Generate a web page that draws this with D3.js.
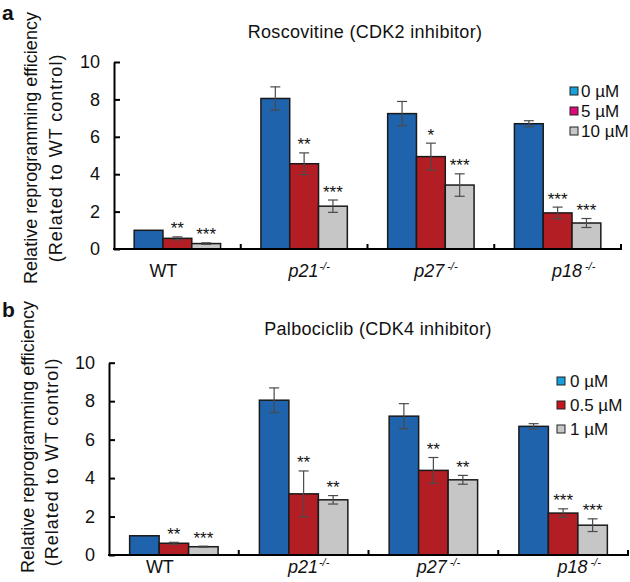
<!DOCTYPE html>
<html><head><meta charset="utf-8">
<script src="https://cdn.jsdelivr.net/npm/d3@7/dist/d3.min.js"></script>
<style>
body{margin:0;background:#fff}
svg{display:block}
text{font-family:Arial,"Liberation Sans",sans-serif;fill:#111}
</style>
</head><body>
<svg id="chart" width="630" height="582"></svg>
<script>
// ---- data ----
const categories = ["WT", "p21", "p27", "p18"];
const yTicks = [0, 2, 4, 6, 8, 10];

const roscSeries = ["0 µM", "5 µM", "10 µM"];
const rosc0 = [1.0, 8.05, 7.24, 6.70];
const rosc5 = [0.57, 4.56, 4.94, 1.93];
const rosc10 = [0.29, 2.29, 3.42, 1.39];
const roscErr0 = [0, 0.62, 0.65, 0.16];
const roscErr5 = [0.08, 0.58, 0.72, 0.31];
const roscErr10 = [0.04, 0.33, 0.60, 0.24];
const roscStars5 = ["**", "**", "*", "***"];
const roscStars10 = ["***", "***", "***", "***"];

const palbSeries = ["0 µM", "0.5 µM", "1 µM"];
const palb0 = [1.0, 8.05, 7.22, 6.69];
const palb05 = [0.61, 3.18, 4.40, 2.18];
const palb1 = [0.43, 2.87, 3.91, 1.55];
const palbErr0 = [0, 0.64, 0.65, 0.14];
const palbErr05 = [0.05, 1.19, 0.67, 0.22];
const palbErr1 = [0.03, 0.22, 0.23, 0.33];
const palbStars05 = ["**", "**", "**", "***"];
const palbStars1 = ["***", "**", "**", "***"];

// ---- styling / layout ----
const barColors = ["#1f63ac", "#b31d24", "#c6c6c6"];
const labelDx = {WT: -14, p21: 5, p27: 5, p18: 16};

const panels = [
  {letter: "a", letterY: 20, title: "Roscovitine (CDK2 inhibitor)", titleX: 365, titleY: 38,
   series: roscSeries, values: [rosc0, rosc5, rosc10], errors: [roscErr0, roscErr5, roscErr10],
   stars: [null, roscStars5, roscStars10],
   legendColors: ["#17a0da", "#dc0a7a", "#c8c8c8"], legendX: 570, legendY: 91, legendStep: 20, legendTextX: 581,
   x0: 114, x1: 621, yTop: 62, yBot: 249, xlabOff: 28, ylab1X: 37, ylab1Y: 148, ylab2X: 62, ylab2Y: 158},
  {letter: "b", letterY: 317, title: "Palbociclib (CDK4 inhibitor)", titleX: 378, titleY: 335,
   series: palbSeries, values: [palb0, palb05, palb1], errors: [palbErr0, palbErr05, palbErr1],
   stars: [null, palbStars05, palbStars1],
   legendColors: ["#17a0da", "#c8141e", "#c8c8c8"], legendX: 557, legendY: 381, legendStep: 24, legendTextX: 570,
   x0: 109, x1: 628, yTop: 362.7, yBot: 555, xlabOff: 18, ylab1X: 34, ylab1Y: 437, ylab2X: 58, ylab2Y: 462}
];

const svg = d3.select("#chart");

panels.forEach(p => {
  const g = svg.append("g");
  const x = d3.scaleBand().domain(categories).range([p.x0, p.x1]).paddingInner(0).paddingOuter(0);
  const xs = d3.scaleBand().domain(d3.range(p.series.length)).range([0, x.bandwidth()])
    .paddingInner(0).paddingOuter(0.7);
  const y = d3.scaleLinear().domain([0, 10]).range([p.yBot, p.yTop]);

  // panel letter
  g.append("text").attr("x", 2).attr("y", p.letterY).attr("font-size", 21)
    .attr("font-weight", "bold").text(p.letter);
  // title
  g.append("text").attr("x", p.titleX).attr("y", p.titleY).attr("text-anchor", "middle")
    .attr("font-size", 18).attr("letter-spacing", 0.3).text(p.title);

  // y label
  g.append("text").attr("transform", `translate(${p.ylab1X},${p.ylab1Y}) rotate(-90)`)
    .attr("text-anchor", "middle").attr("font-size", 18).text("Relative reprogramming efficiency");
  g.append("text").attr("transform", `translate(${p.ylab2X},${p.ylab2Y}) rotate(-90)`)
    .attr("text-anchor", "middle").attr("font-size", 18).attr("letter-spacing", 1)
    .text("(Related to WT control)");

  // bars
  p.series.forEach((s, si) => {
    const vals = p.values[si];
    categories.forEach((c, ci) => {
      const bx = x(c) + xs(si), bw = xs.bandwidth();
      g.append("rect").attr("x", bx).attr("y", y(vals[ci])).attr("width", bw)
        .attr("height", y(0) - y(vals[ci])).attr("fill", barColors[si])
        .attr("stroke", "#1a1a1a").attr("stroke-width", 1.5);
    });
  });
  // error bars & stars
  p.series.forEach((s, si) => {
    const vals = p.values[si], errs = p.errors[si];
    categories.forEach((c, ci) => {
      const cx = x(c) + xs(si) + xs.bandwidth() / 2;
      const e = errs[ci];
      if (e > 0) {
        const eg = g.append("g").attr("stroke", "#4a4a4a").attr("stroke-width", 1.2);
        eg.append("line").attr("x1", cx).attr("x2", cx).attr("y1", y(vals[ci] - e)).attr("y2", y(vals[ci] + e));
        [vals[ci] - e, vals[ci] + e].forEach(v =>
          eg.append("line").attr("x1", cx - 5).attr("x2", cx + 5).attr("y1", y(v)).attr("y2", y(v)));
      }
      if (p.stars[si]) {
        g.append("text").attr("x", cx).attr("y", y(vals[ci] + e) - 2.5)
          .attr("text-anchor", "middle").attr("font-size", 17).text(p.stars[si][ci]);
      }
    });
  });

  // y axis
  const ya = g.append("g").attr("transform", `translate(${p.x0},0)`)
    .call(d3.axisLeft(y).tickValues(yTicks).tickSizeInner(-6).tickSizeOuter(0).tickPadding(14));
  ya.select(".domain").attr("stroke", "#000").attr("stroke-width", 2);
  ya.selectAll(".tick line").attr("stroke", "#000").attr("stroke-width", 2);
  ya.selectAll(".tick text").attr("font-size", 18).attr("font-family", "Arial, 'Liberation Sans', sans-serif").attr("fill", "#111");

  // x axis
  g.append("line").attr("x1", p.x0 - 1).attr("x2", p.x1).attr("y1", p.yBot).attr("y2", p.yBot)
    .attr("stroke", "#000").attr("stroke-width", 2);
  const seps = categories.slice(1).map(c => x(c)).concat([x.range()[1]]);
  seps.forEach(sx => g.append("line").attr("x1", sx).attr("x2", sx)
    .attr("y1", p.yBot - 5).attr("y2", p.yBot + 1).attr("stroke", "#000").attr("stroke-width", 2));

  // x labels
  categories.forEach(c => {
    const t = g.append("text").attr("x", x(c) + x.bandwidth() / 2 + labelDx[c]).attr("y", p.yBot + p.xlabOff)
      .attr("text-anchor", "middle").attr("font-size", 18);
    if (c === "WT") t.text(c);
    else {
      t.append("tspan").attr("font-style", "italic").text(c);
      t.append("tspan").attr("font-style", "italic").attr("font-size", 11).attr("dx", c === "p21" ? 1 : 3)
        .attr("dy", -7).text("-/-");
    }
  });

  // legend
  p.series.forEach((s, si) => {
    const ly = p.legendY + si * p.legendStep;
    g.append("rect").attr("x", p.legendX).attr("y", ly - 4).attr("width", 8).attr("height", 8)
      .attr("fill", p.legendColors[si]).attr("stroke", "#222").attr("stroke-width", 1);
    g.append("text").attr("x", p.legendTextX).attr("y", ly + 6).attr("font-size", 17).text(s);
  });
});
</script>
</body></html>
